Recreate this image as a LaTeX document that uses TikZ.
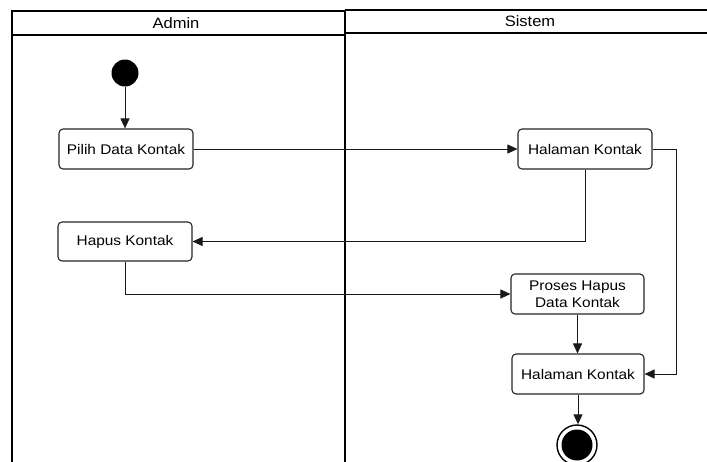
\documentclass[tikz,border=0pt]{standalone}
\usepackage{fontspec}
\setmainfont{Liberation Sans}[FakeStretch=1.1]
\usetikzlibrary{arrows.meta}
\begin{document}
\begin{tikzpicture}[x=1pt,y=-1pt,
  lane/.style={draw=black, line width=1.9pt},
  act/.style={draw=black!85, line width=1.1pt, rounded corners=4pt, fill=white,
    font=\fontsize{14}{17}\selectfont, align=center, inner sep=0pt},
  flow/.style={draw=black!90, line width=0.9pt, -{Triangle[length=10pt,width=9pt]}},
  lbl/.style={font=\fontsize{15}{18}\selectfont}]
\useasboundingbox (0,0) rectangle (707,461);
% swimlanes
\draw[lane] (12,475) -- (12,11) -- (345,11) -- (345,475);
\draw[lane] (12,35) -- (345,35);
\draw[lane] (345,10) -- (712,10);
\draw[lane] (345,33) -- (712,33);
\node[lbl] (hadmin) at (176,23) {Admin};
\node[lbl] (hsis) at (530,21.5) {Sistem};

% activities
\node[circle, fill=black, minimum size=27pt, inner sep=0pt] (start) at (125,73) {};
\node[act, minimum width=134pt, minimum height=40pt] (pilih) at (126,149) {Pilih Data Kontak};
\node[act, minimum width=134pt, minimum height=40pt] (hal1) at (585,149) {Halaman Kontak};
\node[act, minimum width=134pt, minimum height=39pt] (hapus) at (125,241.5) {Hapus Kontak};
\node[act, minimum width=133pt, minimum height=40pt] (proses) at (577.5,294) {Proses Hapus\\Data Kontak};
\node[act, minimum width=132pt, minimum height=40pt] (hal2) at (578,374) {Halaman Kontak};
\node[circle, draw=black, line width=1.4pt, fill=white, minimum size=40pt, inner sep=0pt] (end) at (577,445) {};
\fill[black] (end.center) circle (15.5pt);

% control flow
\draw[flow] (start.south) -- (start.south |- pilih.north);
\draw[flow] (pilih.east) -- (hal1.west);
\draw[flow] (hal1.south) |- (hapus.east);
\draw[flow] (hapus.south) |- (proses.west);
\draw[flow] (hal1.east) -- ++(24,0) |- (hal2.east);
\draw[flow] (proses.south) -- (proses.south |- hal2.north);
\draw[flow] (hal2.south) -- (hal2.south |- end.north);
\end{tikzpicture}
\end{document}
